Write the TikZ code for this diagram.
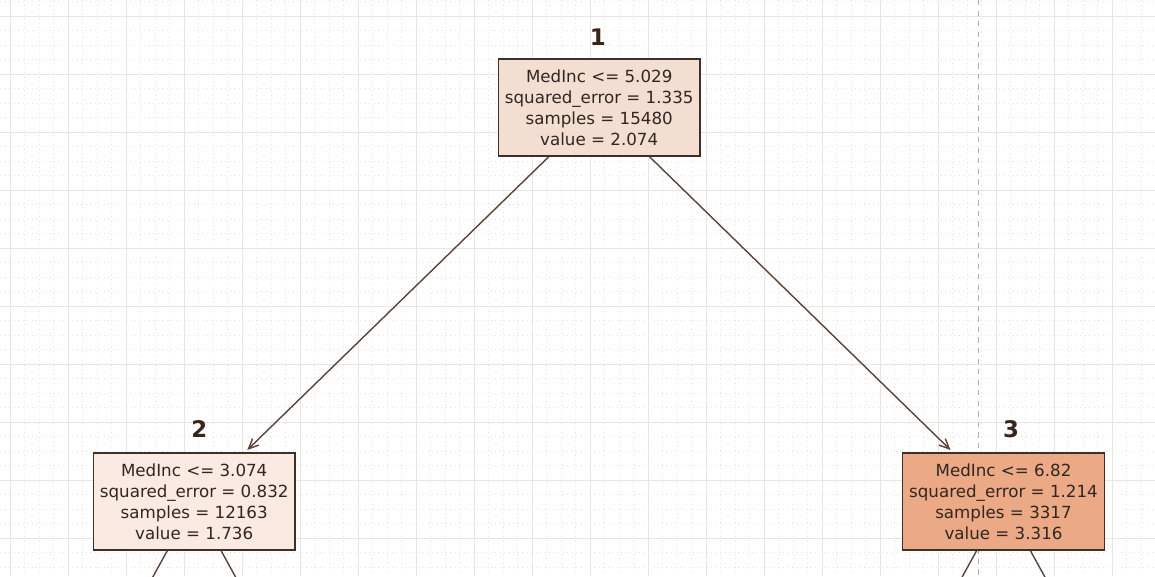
\documentclass[tikz,border=0pt]{standalone}
\usepackage{fontspec}
\setmainfont{DejaVu Sans}
\usetikzlibrary{arrows.meta}

\definecolor{gridmajor}{RGB}{234,228,226}
\definecolor{gridminor}{RGB}{228,228,228}
\definecolor{splitline}{RGB}{196,170,158}
\definecolor{edgecol}{RGB}{88,68,58}
\definecolor{textcol}{RGB}{48,38,34}
\definecolor{idcol}{RGB}{58,36,28}
\definecolor{fillone}{RGB}{243,223,210}
\definecolor{filltwo}{RGB}{250,234,226}
\definecolor{fillthree}{RGB}{235,170,133}

\begin{document}
\begin{tikzpicture}[x=0.2mm, y=-0.2mm,
    treenode/.style={draw=edgecol!70!black, line width=0.3mm, minimum width=40.34mm, minimum height=19.4mm,
      inner sep=0pt, align=center, text=textcol, font=\fontsize{9.5}{11.95}\selectfont},
    idlabel/.style={text=idcol, font=\fontsize{13}{15}\selectfont\bfseries},
    edge/.style={draw=edgecol, line width=0.28mm},
    arrowedge/.style={edge, -{Straight Barb[length=2mm,width=1.8mm]}, shorten >=0.7mm},
    minorline/.style={gridminor, line width=0.2mm, dash pattern=on 0.2mm off 0.7mm},
    majorline/.style={gridmajor, line width=0.2mm}]

      \useasboundingbox (0,0) rectangle (1155,576);
      \clip (0,0) rectangle (1155,576);
      \fill[white] (0,0) rectangle (1155,576);

      \foreach \i in {0,...,80} \draw[minorline] ({-4.5+14.5*\i},0) -- ({-4.5+14.5*\i},576);
      \foreach \i in {0,...,40} \draw[minorline] (0,{1.5+14.5*\i}) -- (1155,{1.5+14.5*\i});
      \foreach \i in {0,...,19} \draw[majorline] ({10+58*\i},0) -- ({10+58*\i},576);
      \foreach \i in {0,...,9} \draw[majorline] (0,{16+58*\i}) -- (1155,{16+58*\i});
      \draw[splitline, dashed, line width=0.2mm] (978.3,0) -- (978.3,576);

      \node[treenode, fill=fillone] (n1) at (599.2,107.5)
        {MedInc <= 5.029\\squared\_error = 1.335\\samples = 15480\\value = 2.074};
      \node[treenode, fill=filltwo] (n2) at (194.2,501.7)
        {MedInc <= 3.074\\squared\_error = 0.832\\samples = 12163\\value = 1.736};
      \node[treenode, fill=fillthree] (n3) at (1003.5,501.7)
        {MedInc <= 6.82\\squared\_error = 1.214\\samples = 3317\\value = 3.316};

      \node[idlabel] (t1) at (597.8,36.7) {1};
      \node[idlabel] (t2) at (199.3,429.5) {2};
      \node[idlabel] (t3) at (1011,429) {3};

      \coordinate (n2l) at (-22.5,895.7);
      \coordinate (n2r) at (410.9,895.7);
      \coordinate (n3l) at (786.8,895.7);
      \coordinate (n3r) at (1220.2,895.7);

      \draw[arrowedge] (n1) -- (n2);
      \draw[arrowedge] (n1) -- (n3);
      \draw[edge] (n2) -- (n2l);
      \draw[edge] (n2) -- (n2r);
      \draw[edge] (n3) -- (n3l);
      \draw[edge] (n3) -- (n3r);

\end{tikzpicture}
\end{document}
